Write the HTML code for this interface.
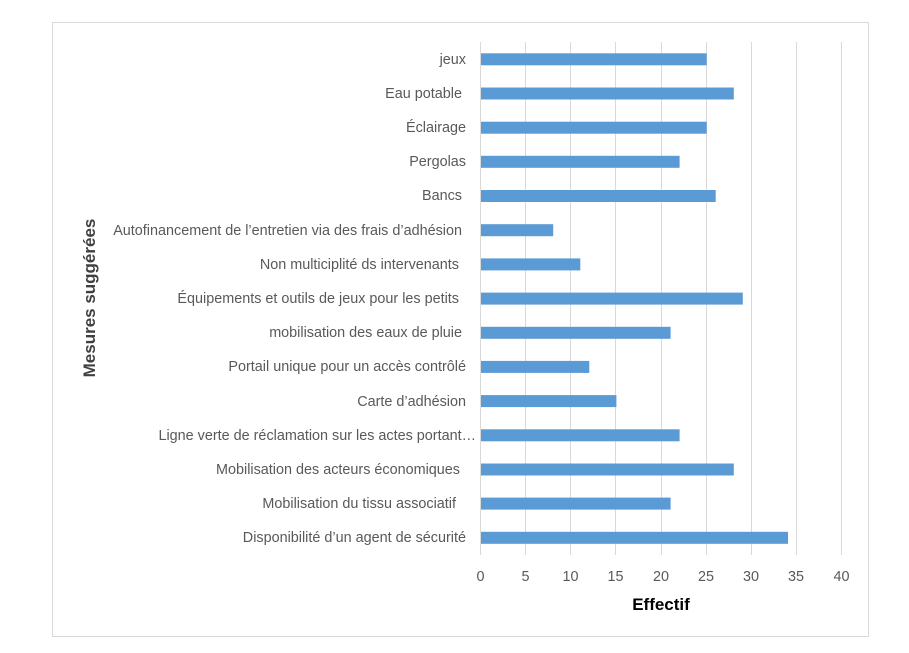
<!DOCTYPE html>
<html><head><meta charset="utf-8"><style>body{margin:0;background:#fff}</style></head><body>
<svg width="909" height="648" xmlns="http://www.w3.org/2000/svg" font-family="Liberation Sans, sans-serif">
<rect x="0" y="0" width="909" height="648" fill="#fff"/>
<rect x="52.5" y="22.5" width="816" height="614" fill="none" stroke="#d9d9d9"/>
<g stroke="#d9d9d9" stroke-width="1">
<line x1="480.5" y1="42" x2="480.5" y2="555"/>
<line x1="525.5" y1="42" x2="525.5" y2="555"/>
<line x1="570.5" y1="42" x2="570.5" y2="555"/>
<line x1="615.5" y1="42" x2="615.5" y2="555"/>
<line x1="661.5" y1="42" x2="661.5" y2="555"/>
<line x1="706.5" y1="42" x2="706.5" y2="555"/>
<line x1="751.5" y1="42" x2="751.5" y2="555"/>
<line x1="796.5" y1="42" x2="796.5" y2="555"/>
<line x1="841.5" y1="42" x2="841.5" y2="555"/>
</g>
<g fill="#5b9bd5">
<rect x="481" y="53.3" width="225.7" height="12"/>
<rect x="481" y="87.5" width="252.8" height="12"/>
<rect x="481" y="121.7" width="225.7" height="12"/>
<rect x="481" y="155.8" width="198.6" height="12"/>
<rect x="481" y="190" width="234.7" height="12"/>
<rect x="481" y="224.2" width="72.2" height="12"/>
<rect x="481" y="258.4" width="99.3" height="12"/>
<rect x="481" y="292.6" width="261.8" height="12"/>
<rect x="481" y="326.8" width="189.6" height="12"/>
<rect x="481" y="360.9" width="108.3" height="12"/>
<rect x="481" y="395.1" width="135.4" height="12"/>
<rect x="481" y="429.3" width="198.6" height="12"/>
<rect x="481" y="463.5" width="252.8" height="12"/>
<rect x="481" y="497.6" width="189.6" height="12"/>
<rect x="481" y="531.8" width="307" height="12"/>
</g>
<g fill="#595959" font-size="14.4" text-anchor="end">
<text x="466" y="64">jeux</text>
<text x="462" y="98">Eau potable</text>
<text x="466" y="132">Éclairage</text>
<text x="466" y="166">Pergolas</text>
<text x="462" y="200">Bancs</text>
<text x="462" y="235">Autofinancement de l’entretien via des frais d’adhésion</text>
<text x="459" y="269">Non multiciplité ds intervenants</text>
<text x="459" y="303">Équipements et outils de jeux pour les petits</text>
<text x="462" y="337">mobilisation des eaux de pluie</text>
<text x="466" y="371">Portail unique pour un accès contrôlé</text>
<text x="466" y="406">Carte d’adhésion</text>
<text x="476" y="440">Ligne verte de réclamation sur les actes portant…</text>
<text x="460" y="474">Mobilisation des acteurs économiques</text>
<text x="456" y="508">Mobilisation du tissu associatif</text>
<text x="466" y="542">Disponibilité d’un agent de sécurité</text>
</g>
<g fill="#595959" font-size="14.4" text-anchor="middle">
<text x="480.5" y="581">0</text>
<text x="525.5" y="581">5</text>
<text x="570.5" y="581">10</text>
<text x="615.5" y="581">15</text>
<text x="661" y="581">20</text>
<text x="706" y="581">25</text>
<text x="751" y="581">30</text>
<text x="796" y="581">35</text>
<text x="841.5" y="581">40</text>
</g>
<text x="661" y="610" font-size="17" font-weight="bold" text-anchor="middle" fill="#000">Effectif</text>
<text transform="translate(95,298) rotate(-90)" font-size="17" font-weight="bold" text-anchor="middle" fill="#404040">Mesures suggérées</text>
</svg>
</body></html>
